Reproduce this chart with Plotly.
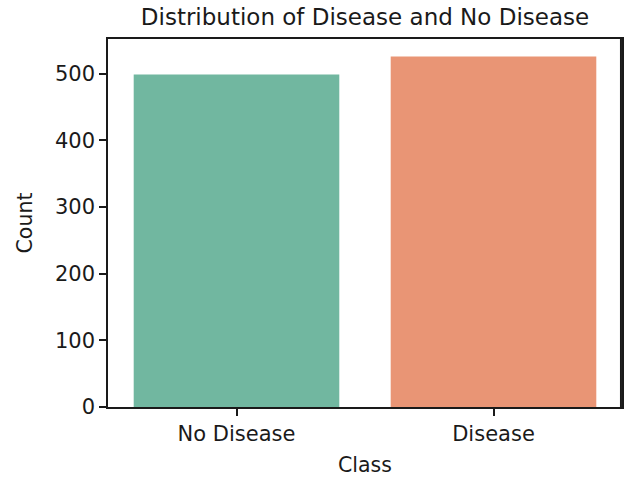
import plotly.graph_objects as go

categories = ["No Disease", "Disease"]
counts = [499, 526]
colors = ["#71b7a0", "#e99575"]
y_ticks = [0, 100, 200, 300, 400, 500]

FONT = "DejaVu Sans"
INK = "#1a1a1a"

W, H = 624, 477

fig = go.Figure(
    go.Bar(
        x=categories,
        y=counts,
        marker=dict(color=colors, line=dict(width=0)),
        width=0.8,
    )
)

fig.update_layout(
    width=W,
    height=H,
    autosize=False,
    margin=dict(l=108, r=2, t=39, b=70, autoexpand=False),
    paper_bgcolor="white",
    plot_bgcolor="white",
    showlegend=False,
    font=dict(family=FONT, size=21, color=INK),
    title=dict(
        text="Distribution of Disease and No Disease",
        x=(108 + 622) / 2 / W,
        xanchor="center",
        y=1 - 17 / H,
        yanchor="middle",
        font=dict(family=FONT, size=23, color=INK),
    ),
    # right-hand frame line of the axes box
    shapes=[
        dict(type="line", xref="paper", yref="paper", x0=0.998, x1=0.998, y0=0, y1=1,
             line=dict(color=INK, width=2), layer="above"),
    ],
)

fig.update_xaxes(
    range=[-0.5, 1.5],
    automargin=False,
    showline=True,
    linecolor=INK,
    linewidth=1.5,
    mirror=True,
    ticks="outside",
    ticklen=7,
    tickwidth=1.5,
    tickcolor=INK,
    showgrid=False,
    tickfont=dict(family=FONT, size=21, color=INK),
    title=dict(text="Class", font=dict(family=FONT, size=20.5, color=INK), standoff=14),
)

fig.update_yaxes(
    range=[0, 552.3],
    automargin=False,
    tickvals=y_ticks,
    ticktext=[str(v) for v in y_ticks],
    showline=True,
    linecolor=INK,
    linewidth=1.5,
    mirror=True,
    ticks="outside",
    ticklen=7,
    tickwidth=1.5,
    tickcolor=INK,
    showgrid=False,
    zeroline=False,
    tickfont=dict(family=FONT, size=21, color=INK),
    title=dict(text="Count", font=dict(family=FONT, size=20.5, color=INK), standoff=17),
)

fig.write_html(
    "out.html",
    config={"displayModeBar": False},
    post_script="document.body.style.margin='0';document.body.style.overflow='hidden';",
)
